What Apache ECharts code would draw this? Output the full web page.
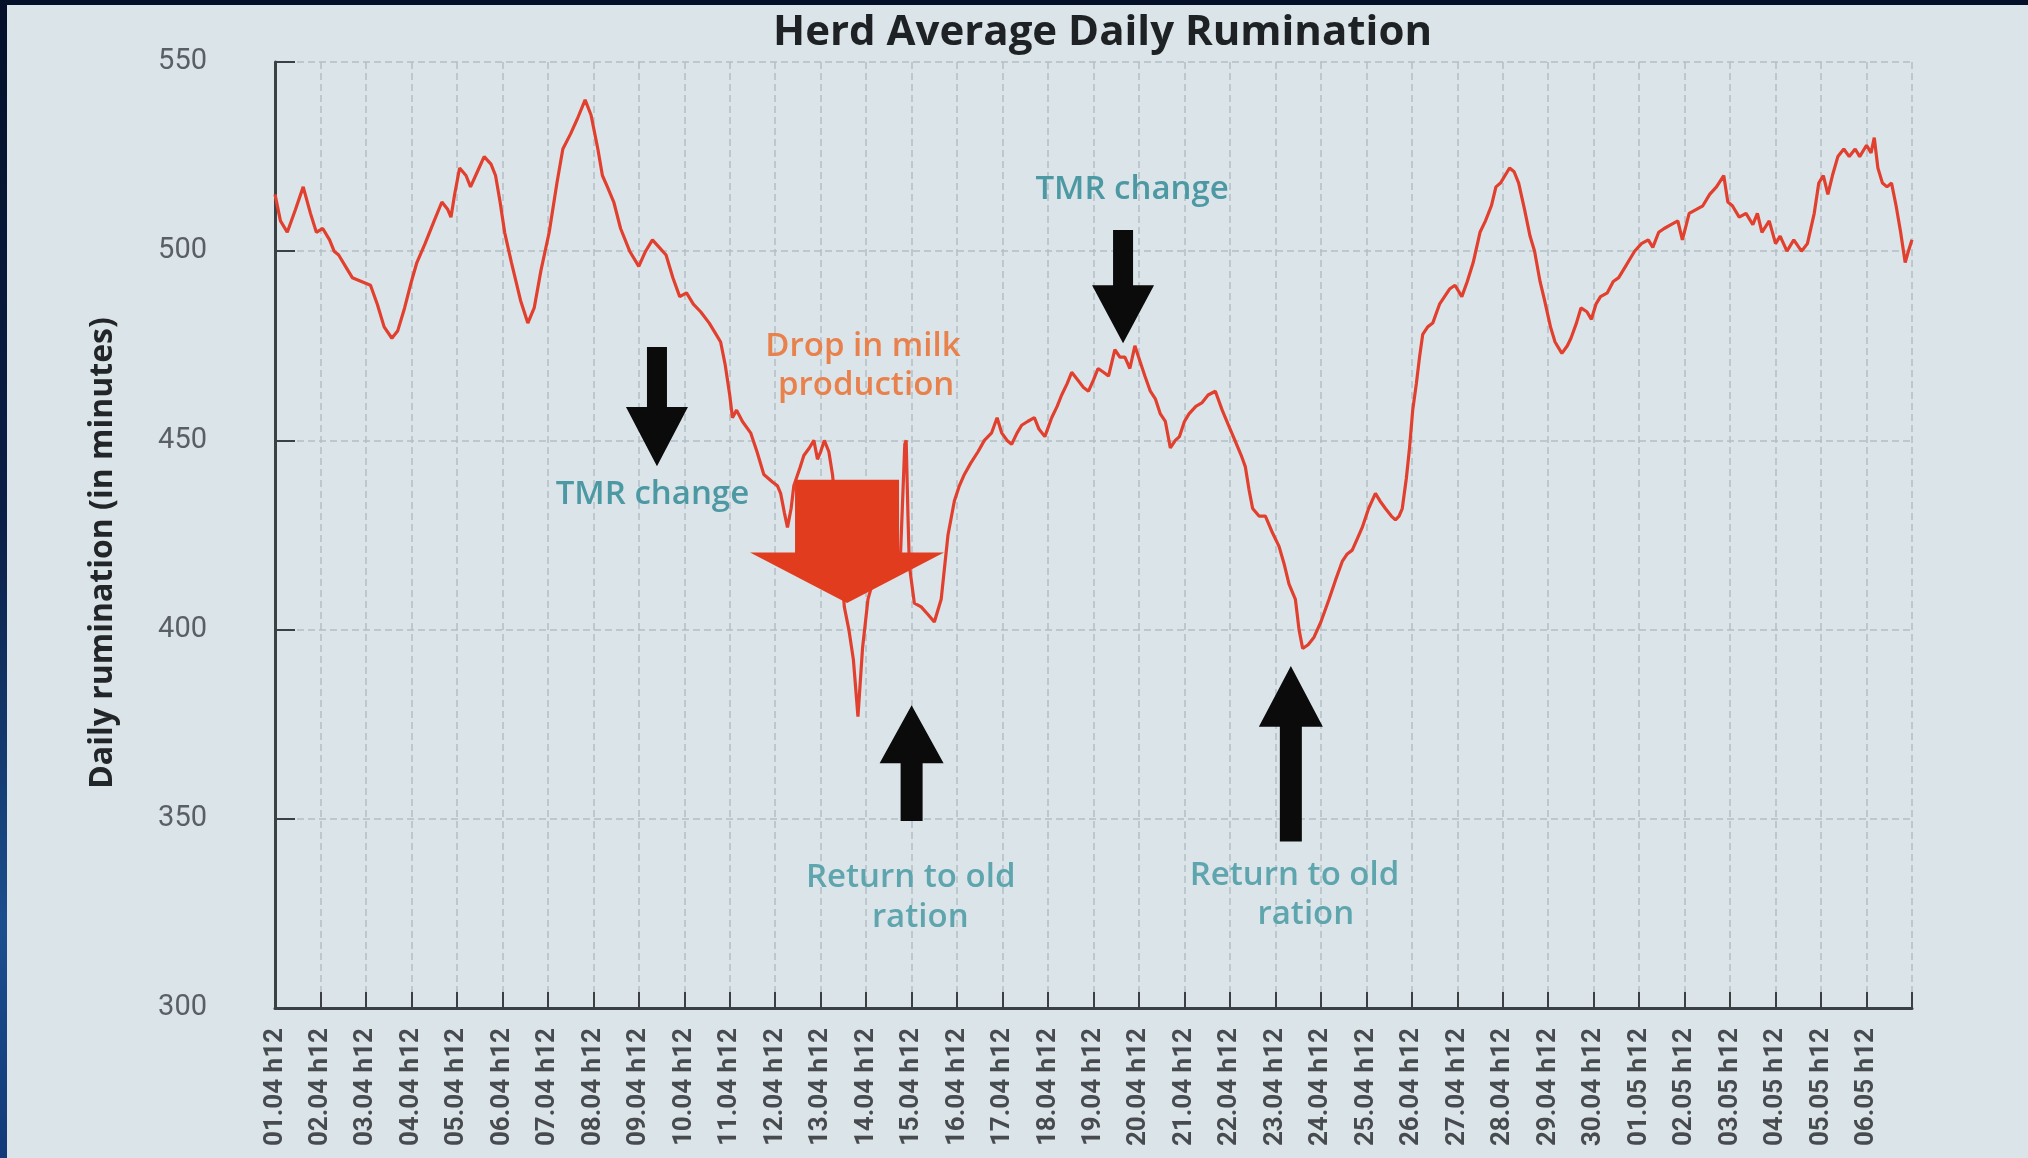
<!DOCTYPE html>
<html>
<head>
<meta charset="utf-8">
<script src="https://cdn.jsdelivr.net/npm/echarts@6/dist/echarts.min.js"></script>
<style>
  html, body { margin:0; padding:0; width:2028px; height:1158px; overflow:hidden; background:#04102a; }
  #edge { position:absolute; left:0; top:0; width:7px; height:1158px;
          background:linear-gradient(to bottom,#04102a 0%,#0a1f47 45%,#1c4e8e 80%,#123a78 100%); }
  #chart { position:absolute; left:7px; top:5px; width:2021px; height:1153px; background:#dbe4e9; }
</style>
</head>
<body>
<div id="edge"></div>
<div id="chart"></div>
<script>
// ---- tick labels (one per day, at 12h) ----
const dayLabels = [
  '01.04 h12','02.04 h12','03.04 h12','04.04 h12','05.04 h12','06.04 h12','07.04 h12','08.04 h12',
  '09.04 h12','10.04 h12','11.04 h12','12.04 h12','13.04 h12','14.04 h12','15.04 h12','16.04 h12',
  '17.04 h12','18.04 h12','19.04 h12','20.04 h12','21.04 h12','22.04 h12','23.04 h12','24.04 h12',
  '25.04 h12','26.04 h12','27.04 h12','28.04 h12','29.04 h12','30.04 h12','01.05 h12','02.05 h12',
  '03.05 h12','04.05 h12','05.05 h12','06.05 h12'
];
const yTicks = [300, 350, 400, 450, 500, 550];

// ---- series: days since 01.04 h12, and herd average daily rumination (minutes) ----
const sampleDays = [
  0.00,0.12,0.27,0.45,0.62,0.78,0.91,1.05,1.20,1.30,1.40,1.55,1.70,1.90,2.10,2.25,2.40,2.57,2.70,2.85,
  3.00,3.12,3.30,3.50,3.67,3.80,3.87,3.95,4.06,4.20,4.30,4.45,4.60,4.75,4.85,4.95,5.05,5.20,5.40,5.56,
  5.70,5.85,6.03,6.20,6.33,6.50,6.65,6.82,6.95,7.10,7.20,7.31,7.45,7.60,7.80,8.00,8.15,8.30,8.45,8.60,
  8.75,8.90,9.05,9.20,9.36,9.55,9.70,9.80,9.90,10.00,10.06,10.15,10.28,10.46,10.60,10.75,10.94,11.05,11.12,11.20,
  11.27,11.35,11.41,11.55,11.63,11.75,11.85,11.93,12.00,12.08,12.18,12.26,12.35,12.45,12.52,12.62,12.72,12.82,12.92,13.04,
  13.20,13.40,13.60,13.75,13.85,13.88,13.92,13.95,14.06,14.21,14.36,14.50,14.65,14.80,14.94,15.05,15.16,15.30,15.46,15.60,
  15.76,15.88,15.98,16.10,16.20,16.32,16.42,16.55,16.70,16.80,16.93,17.08,17.20,17.30,17.42,17.52,17.65,17.78,17.89,18.00,
  18.10,18.22,18.33,18.47,18.58,18.69,18.80,18.91,19.02,19.13,19.25,19.36,19.47,19.58,19.69,19.80,19.89,20.00,20.10,20.25,
  20.39,20.52,20.68,20.83,20.97,21.11,21.25,21.34,21.42,21.50,21.64,21.78,21.92,22.08,22.20,22.30,22.44,22.52,22.60,22.72,
  22.85,23.00,23.18,23.32,23.47,23.58,23.69,23.80,23.91,24.05,24.20,24.30,24.42,24.55,24.64,24.72,24.79,24.88,24.95,25.02,
  25.10,25.17,25.24,25.35,25.46,25.55,25.61,25.72,25.83,25.95,26.10,26.22,26.35,26.50,26.62,26.75,26.85,26.95,27.05,27.15,
  27.25,27.35,27.48,27.60,27.70,27.82,27.92,28.05,28.15,28.30,28.42,28.50,28.62,28.72,28.85,28.95,29.05,29.15,29.30,29.43,
  29.55,29.70,29.80,29.90,30.05,30.20,30.30,30.43,30.55,30.70,30.85,30.95,31.10,31.25,31.40,31.55,31.70,31.86,31.95,32.05,
  32.20,32.35,32.50,32.60,32.70,32.86,33.00,33.10,33.25,33.40,33.57,33.70,33.85,33.95,34.05,34.15,34.25,34.37,34.50,34.62,
  34.75,34.85,35.00,35.10,35.17,35.25,35.35,35.45,35.55,35.65,35.75,35.85,35.92,36.00
];
const rumination = [
  515,508,505,511,517,510,505,506,503,500,499,496,493,492,491,486,480,477,479,485,
  492,497,502,508,513,511,509,515,522,520,517,521,525,523,520,513,505,497,487,481,
  485,495,505,518,527,531,535,540,536,527,520,517,513,506,500,496,500,503,501,499,
  493,488,489,486,484,481,478,476,470,462,456,458,455,452,447,441,439,438,436,431,
  427,432,438,443,446,448,450,445,447,450,447,441,430,418,406,400,392,377,395,408,
  415,417,418,418,449,450,430,417,407,406,404,402,408,425,434,438,441,444,447,450,
  452,456,452,450,449,452,454,455,456,453,451,456,459,462,465,468,466,464,463,466,
  469,468,467,474,472,472,469,475,471,467,463,461,457,455,448,450,451,455,457,459,
  460,462,463,458,454,450,446,443,437,432,430,430,426,422,417,412,408,400,395,396,
  398,402,408,413,418,420,421,424,427,432,436,434,432,430,429,430,432,440,448,458,
  465,472,478,480,481,484,486,488,490,491,488,492,497,505,508,512,517,518,520,522,
  521,518,511,504,500,492,487,480,476,473,475,477,481,485,484,482,486,488,489,492,
  493,496,498,500,502,503,501,505,506,507,508,503,510,511,512,515,517,520,513,512,
  509,510,507,510,505,508,502,504,500,503,500,502,510,518,520,515,520,525,527,525,
  527,525,528,526,530,522,518,517,518,512,505,497,500,503
];

// ---- annotations (anchored in data coordinates: day, minutes) ----
const arrowDefs = [
  { dir:'down', day: 8.40, start:474.7, head:458.8, tip:443.2, shaft:10, headW:31, color:'#0b0b0b' },
  { dir:'down', day:18.65, start:505.6, head:491.0, tip:475.7, shaft:10, headW:31, color:'#0b0b0b' },
  { dir:'up',   day:14.00, start:349.4, head:364.7, tip:380.0, shaft:11, headW:32, color:'#0b0b0b' },
  { dir:'up',   day:22.34, start:344.0, head:374.3, tip:390.4, shaft:11, headW:32, color:'#0b0b0b' },
  { dir:'down', day:12.58, start:439.6, head:420.4, tip:407.0, shaft:52, headW:97, color:'#e23c1f' }
];
const noteTexts = [
  { text:'TMR change',    day: 8.30, value:435.6, color:'#4c99a4' },
  { text:'Drop in milk',  day:12.93, value:474.8, color:'#e8814c' },
  { text:'production',    day:13.00, value:464.6, color:'#e8814c' },
  { text:'Return to old', day:13.98, value:334.4, color:'#5ea5ae' },
  { text:'ration',        day:14.19, value:324.0, color:'#5ea5ae' },
  { text:'TMR change',    day:18.85, value:516.2, color:'#4c99a4' },
  { text:'Return to old', day:22.42, value:334.9, color:'#5ea5ae' },
  { text:'ration',        day:22.67, value:324.6, color:'#5ea5ae' }
];

const chart = echarts.init(document.getElementById('chart'), null, { renderer: 'canvas' });
const seriesData = sampleDays.map((d, i) => [d, rumination[i]]);

chart.setOption({
  backgroundColor: '#dbe4e9',
  animation: false,
  title: {
    text: 'Herd Average Daily Rumination',
    left: 761, top: 2,
    textStyle: { fontFamily: 'Open Sans', fontWeight: 'bold', fontSize: 42, color: '#1f2224' }
  },
  grid: { left: 268, top: 57, right: 116, bottom: 150, containLabel: false },
  xAxis: {
    type: 'value', min: 0, max: 36, interval: 1,
    axisLine: { show: true, lineStyle: { color: '#3b4045', width: 3 } },
    axisTick: { show: true, inside: true, length: 16, lineStyle: { color: '#3b4045', width: 2 } },
    axisLabel: {
      rotate: 90, margin: 20, fontFamily: 'Roboto', fontWeight: 'bold', fontSize: 26, color: '#474b4f',
      formatter: v => (dayLabels[Math.round(v)] !== undefined && Math.abs(v - Math.round(v)) < 1e-6) ? dayLabels[Math.round(v)] : ''
    },
    splitLine: { show: true, lineStyle: { color: '#b4bec5', width: 1.5, type: [7, 4] } }
  },
  yAxis: {
    type: 'value', min: yTicks[0], max: yTicks[yTicks.length - 1], interval: 50,
    name: 'Daily rumination (in minutes)',
    nameLocation: 'middle', nameGap: 156, nameRotate: 90,
    nameTextStyle: { fontFamily: 'Open Sans', fontWeight: 'bold', fontSize: 32, color: '#232629', padding: [0, 36, 0, 0] },
    axisLine: { show: true, lineStyle: { color: '#3b4045', width: 3 } },
    axisTick: { show: true, inside: true, length: 20, lineStyle: { color: '#3b4045', width: 2 } },
    axisLabel: { margin: 68, fontFamily: 'Roboto', fontSize: 29, color: '#5a5f63' },
    splitLine: { show: true, lineStyle: { color: '#b4bec5', width: 1.5, type: [7, 4] } }
  },
  series: [{
    type: 'line', data: seriesData, showSymbol: false, smooth: false,
    lineStyle: { color: '#e2402e', width: 3.2 }, z: 3
  }]
});

// build annotation graphics from data coordinates
const px = (d, v) => chart.convertToPixel({ gridIndex: 0 }, [d, v]);
const graphics = [];
arrowDefs.forEach(a => {
  const [x, ys] = px(a.day, a.start);
  const yh = px(a.day, a.head)[1];
  const yt = px(a.day, a.tip)[1];
  graphics.push({
    type: 'polygon', z: 100,
    shape: { points: [
      [x - a.shaft, ys], [x + a.shaft, ys], [x + a.shaft, yh], [x + a.headW, yh],
      [x, yt], [x - a.headW, yh], [x - a.shaft, yh]
    ] },
    style: { fill: a.color }
  });
});
noteTexts.forEach(t => {
  const [x, y] = px(t.day, t.value);
  graphics.push({
    type: 'text', z: 101, x: x, y: y,
    style: { text: t.text, fill: t.color, font: '600 33px "Open Sans"', textAlign: 'center', textVerticalAlign: 'middle' }
  });
});
chart.setOption({ graphic: graphics });
</script>
</body>
</html>
